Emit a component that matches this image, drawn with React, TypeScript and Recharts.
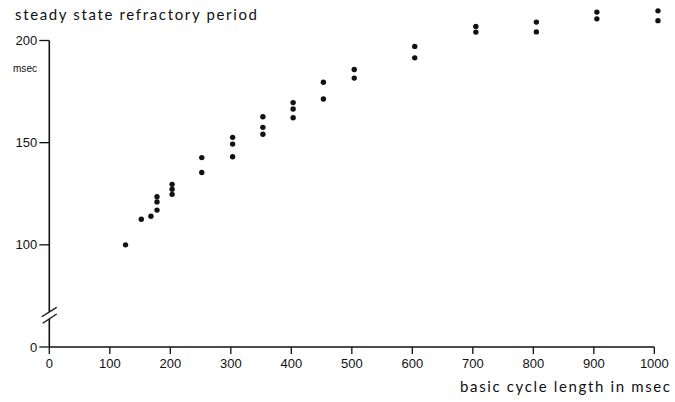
import React from "react";
import { ScatterChart, Scatter, XAxis, YAxis, ReferenceLine } from "recharts";

// basic cycle length (msec) for each group of measurements
const basicCycle = [126, 152, 168, 178, 203, 252, 303, 353, 403, 453, 504, 604, 705, 805, 905, 1006];
// steady state refractory period (msec) measured at each cycle length
const refractory: number[][] = [
  [100],
  [112.5],
  [114],
  [117, 121, 123.5],
  [124.7, 127.2, 129.6],
  [135.4, 142.7],
  [143.1, 149.3, 152.6],
  [154.1, 157.5, 162.7],
  [162.2, 166.5, 169.6],
  [171.4, 179.6],
  [181.6, 185.8],
  [191.5, 197.1],
  [204.1, 206.9],
  [204.2, 209.0],
  [210.6, 213.9],
  [209.7, 214.5],
];
const xTicks = [0, 100, 200, 300, 400, 500, 600, 700, 800, 900, 1000];
// y axis is broken: the value 50 on the scale stands for the "0" label
const yTicks = [50, 100, 150, 200];
const BREAK_BASE = 50;

const points = basicCycle.flatMap((x, i) => refractory[i].map((y) => ({ x, y })));

const INK = "#111";
const tickFont = { fontFamily: "'Liberation Sans', Arial, sans-serif", fontSize: 13, fill: INK };

const Dot = (p: any) => <circle cx={p.cx} cy={p.cy} r={2.7} fill={INK} />;

export default function App() {
  return (
    <div style={{ position: "absolute", left: 0, top: 0, width: 675, height: 402, background: "#fff" }}>
      <ScatterChart
        width={675}
        height={402}
        margin={{ top: 7.8, right: 13.4, bottom: 25, left: 9.3 }}
      >
        <XAxis
          type="number"
          dataKey="x"
          domain={[0, 1012]}
          ticks={xTicks}
          axisLine={false}
          tickLine={{ stroke: INK, strokeWidth: 1.3 }}
          tickSize={7}
          tickMargin={5}
          tick={tickFont}
          height={30}
          interval={0}
        />
        <YAxis
          type="number"
          dataKey="y"
          domain={[BREAK_BASE, 216]}
          ticks={yTicks}
          tickFormatter={(v: number) => (v === BREAK_BASE ? "0" : String(v))}
          axisLine={false}
          tickLine={{ stroke: INK, strokeWidth: 1.3 }}
          tickSize={10}
          tickMargin={2}
          tick={tickFont}
          width={40}
          interval={0}
        />
        <ReferenceLine segment={[{ x: 0, y: BREAK_BASE }, { x: 1000, y: BREAK_BASE }]} stroke={INK} strokeWidth={1.6} ifOverflow="visible" />
        <ReferenceLine segment={[{ x: 0, y: BREAK_BASE }, { x: 0, y: 63.75 }]} stroke={INK} strokeWidth={1.6} ifOverflow="visible" />
        <ReferenceLine segment={[{ x: 0, y: 67.2 }, { x: 0, y: 200 }]} stroke={INK} strokeWidth={1.6} ifOverflow="visible" />
        <ReferenceLine segment={[{ x: -12.6, y: 64.8 }, { x: 12.2, y: 69.4 }]} stroke={INK} strokeWidth={1.3} ifOverflow="visible" />
        <ReferenceLine segment={[{ x: -10.9, y: 61.6 }, { x: 12.2, y: 66.15 }]} stroke={INK} strokeWidth={1.3} ifOverflow="visible" />
        <Scatter data={points} shape={Dot} isAnimationActive={false} />
      </ScatterChart>
      <svg width={675} height={402} style={{ position: "absolute", left: 0, top: 0, pointerEvents: "none" }}>
        <text x={15} y={19.5} textLength={242} lengthAdjust="spacing" style={{ fontFamily: "Lato, sans-serif", fontSize: 15, fill: INK }}>
          steady state refractory period
        </text>
        <text x={13} y={71.5} textLength={24} lengthAdjust="spacingAndGlyphs" style={{ fontFamily: "'Liberation Sans', Arial, sans-serif", fontSize: 11.5, fill: INK }}>
          msec
        </text>
        <text x={460} y={392} textLength={210} lengthAdjust="spacing" style={{ fontFamily: "Lato, sans-serif", fontSize: 15, fill: INK }}>
          basic cycle length in msec
        </text>
      </svg>
    </div>
  );
}
